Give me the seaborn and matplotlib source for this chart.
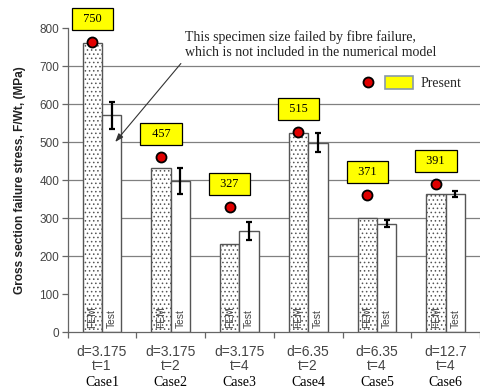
import numpy as np
import pandas as pd
import matplotlib
matplotlib.use("Agg")
import matplotlib.pyplot as plt
from matplotlib.legend_handler import HandlerTuple
from matplotlib.lines import Line2D
from matplotlib.patches import Patch
import seaborn as sns

# ---- data ----
cases = ["Case1", "Case2", "Case3", "Case4", "Case5", "Case6"]
geom_labels = ["d=3.175\nt=1", "d=3.175\nt=2", "d=3.175\nt=4",
               "d=6.35\nt=2", "d=6.35\nt=4", "d=12.7\nt=4"]
fem_values = [761, 432, 231, 524, 301, 363]
test_values = [570, 397, 266, 498, 285, 363]
test_err = [36, 35, 24, 25, 9, 8]
present_values = [763, 460, 330, 527, 360, 389]
present_labels = ["750", "457", "327", "515", "371", "391"]
yticks = [0, 100, 200, 300, 400, 500, 600, 700, 800]
note = "This specimen size failed by fibre failure,\nwhich is not included in the numerical model"
arrow_target = 500

sns.set_theme(style="white")
plt.rcParams["font.family"] = ["Liberation Sans", "DejaVu Sans"]
plt.rcParams["hatch.color"] = "#9a9a9a"
plt.rcParams["hatch.linewidth"] = 0.6

df = pd.DataFrame({
    "case": cases * 2,
    "kind": ["FEM"] * 6 + ["Test"] * 6,
    "value": fem_values + test_values,
})

fig = plt.figure(figsize=(4.8, 3.9), dpi=100)
ax = fig.add_axes([0.141, 0.1487, 0.859, 0.7795])

sns.barplot(data=df, x="case", y="value", hue="kind", ax=ax, width=0.565,
            palette={"FEM": "white", "Test": "white"}, edgecolor="#555555",
            linewidth=1.0, legend=False, zorder=2)

patches = ax.patches
fem_bars = patches[:6]
test_bars = patches[6:12]
for p in fem_bars:
    p.set_hatch("....")
fem_x = [p.get_x() + p.get_width() / 2 for p in fem_bars]
test_x = [p.get_x() + p.get_width() / 2 for p in test_bars]

# error bars on Test bars
ax.errorbar(test_x, test_values, yerr=test_err, fmt="none", ecolor="black",
            elinewidth=1.6, capsize=2.3, capthick=1.6, zorder=4)

# FEM / Test labels inside bars
for x in fem_x:
    ax.annotate("FEM", xy=(x, 0), xytext=(0, 3), textcoords="offset points",
                rotation=90, ha="center", va="bottom", fontsize=7.4,
                color="#444444", zorder=5)
for x in test_x:
    ax.annotate("Test", xy=(x, 0), xytext=(0, 3), textcoords="offset points",
                rotation=90, ha="center", va="bottom", fontsize=7.4,
                color="#444444", zorder=5)

# present points + yellow labels
ax.scatter(fem_x, present_values, s=52, color="#e00000", edgecolor="black",
           linewidth=1.3, zorder=6, clip_on=False)
for x, v, lab in zip(fem_x, present_values, present_labels):
    ax.annotate("  " + lab + "  ", xy=(x, v), xytext=(0, 16.5),
                textcoords="offset points", ha="center", va="center",
                fontsize=8.8, family=["Liberation Serif"], color="black",
                bbox=dict(boxstyle="square,pad=0.42", fc="#ffff00", ec="black", lw=0.9),
                zorder=7, annotation_clip=False)

# note with arrow
ax.annotate(note, xy=(test_x[0] + 0.05, arrow_target), xytext=(1.2, 795),
            textcoords="data", ha="left", va="top", fontsize=10,
            family=["Liberation Serif"], color="#222222", linespacing=1.25,
            arrowprops=dict(arrowstyle="-|>,head_length=0.5,head_width=0.18",
                            color="#333333", lw=0.8, relpos=(0, 0),
                            shrinkA=1, shrinkB=0),
            annotation_clip=False, zorder=8)

# axes styling
ax.set_ylim(0, 800)
ax.set_xlim(-0.5, 5.47)
ax.set_yticks(yticks)
ax.set_yticklabels([str(v) for v in yticks], fontsize=8.5, color="#444444")
ax.tick_params(axis="y", which="major", direction="out", length=4, width=0.9,
               color="#666666", left=True, pad=2)
for v in yticks[2:-1]:
    ax.axhline(v, color="#808080", lw=0.9, zorder=1)

ax.set_xticks(np.arange(-0.5, 6, 1.0))
ax.set_xticklabels([])
ax.tick_params(axis="x", which="major", direction="out", length=4, width=0.9,
               color="#666666", bottom=True)
ax.set_xticks(np.arange(6), minor=True)
ax.set_xticklabels(geom_labels, minor=True, fontsize=10, color="#444444",
                   linespacing=1.05)
ax.tick_params(axis="x", which="minor", length=0, pad=9)

for i, c in enumerate(cases):
    ax.annotate(c, xy=(i, 0), xycoords=("data", "axes fraction"),
                xytext=(0, -36.5), textcoords="offset points", ha="center",
                va="center", fontsize=10, family=["Liberation Serif"],
                color="black", annotation_clip=False)

ax.set_xlabel("")
ax.set_ylabel("Gross section failure stress, F/Wt, (MPa)", fontsize=8.6,
              fontweight="bold", color="#222222", labelpad=10)
for s in ["top", "right"]:
    ax.spines[s].set_visible(False)
for s in ["left", "bottom"]:
    ax.spines[s].set_color("#666666")
    ax.spines[s].set_linewidth(0.9)

# legend
h_dot = Line2D([], [], marker="o", ls="none", markersize=7.2,
               markerfacecolor="#e00000", markeredgecolor="black", markeredgewidth=1.3)
h_box = Patch(facecolor="#ffff00", edgecolor="#8899aa", linewidth=1.2)
ax.legend([(h_dot, h_box)], ["Present"], handler_map={tuple: HandlerTuple(ndivide=None, pad=0.2)},
          loc="center left", bbox_to_anchor=(0.695, 0.819), frameon=False,
          borderpad=0, borderaxespad=0, handlelength=4.2, handleheight=1.1,
          handletextpad=0.55, prop={"family": ["Liberation Serif"], "size": 10})

fig.savefig("out.png", dpi=100)
